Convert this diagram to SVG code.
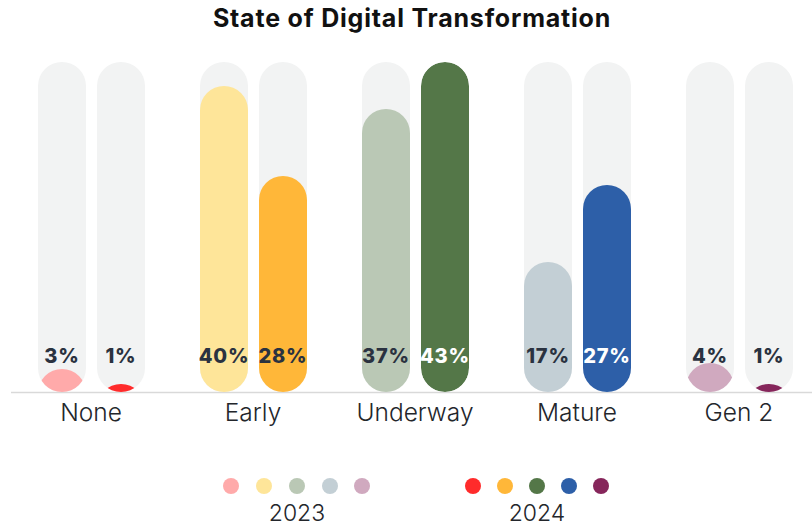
<svg xmlns="http://www.w3.org/2000/svg" width="812" height="526" viewBox="0 0 812 526">
<style>
.bg{fill:#f2f3f3}
.pct{font-family:Inter,"Liberation Sans",sans-serif;font-weight:800;font-size:20px;letter-spacing:0.8px;fill:#2a3240;text-anchor:middle}
.pct.w{fill:#ffffff}
.cat{font-family:Inter,"Liberation Sans",sans-serif;font-weight:300;font-size:24.5px;fill:#23262b;text-anchor:middle}
.yr{font-family:Inter,"Liberation Sans",sans-serif;font-weight:300;font-size:23px;fill:#23262b;text-anchor:middle}
.title{font-family:Inter,"Liberation Sans",sans-serif;font-weight:700;font-size:25px;letter-spacing:0.8px;fill:#111111;text-anchor:middle}
</style>
<defs>
<clipPath id="c0"><rect x="38" y="62" width="48" height="330" rx="24"/></clipPath>
<clipPath id="c1"><rect x="97" y="62" width="48" height="330" rx="24"/></clipPath>
<clipPath id="c2"><rect x="200" y="62" width="48" height="330" rx="24"/></clipPath>
<clipPath id="c3"><rect x="259" y="62" width="48" height="330" rx="24"/></clipPath>
<clipPath id="c4"><rect x="362" y="62" width="48" height="330" rx="24"/></clipPath>
<clipPath id="c5"><rect x="421" y="62" width="48" height="330" rx="24"/></clipPath>
<clipPath id="c6"><rect x="524" y="62" width="48" height="330" rx="24"/></clipPath>
<clipPath id="c7"><rect x="583" y="62" width="48" height="330" rx="24"/></clipPath>
<clipPath id="c8"><rect x="686" y="62" width="48" height="330" rx="24"/></clipPath>
<clipPath id="c9"><rect x="745" y="62" width="48" height="330" rx="24"/></clipPath>
</defs>
<rect width="812" height="526" fill="#ffffff"/>
<text id="title" class="title" x="412" y="27">State of Digital Transformation</text>

<g id="connectors">
<line x1="11" y1="392.5" x2="812" y2="392.5" stroke="#d9d9d9" stroke-width="1.5"/>
</g>

<g id="none">
<rect class="bg" x="38" y="62" width="48" height="330" rx="24"/>
<rect clip-path="url(#c0)" x="38" y="369" width="48" height="80" rx="24" fill="#ffaaaa"/>
<text class="pct" x="62" y="363">3%</text>
<rect class="bg" x="97" y="62" width="48" height="330" rx="24"/>
<rect clip-path="url(#c1)" x="97" y="384" width="48" height="80" rx="24" fill="#ff2b2b"/>
<text class="pct" x="121" y="363">1%</text>
<text class="cat" x="91" y="421">None</text>
</g>

<g id="early">
<rect class="bg" x="200" y="62" width="48" height="330" rx="24"/>
<rect clip-path="url(#c2)" x="200" y="86" width="48" height="330" rx="24" fill="#fee599"/>
<text class="pct" x="224" y="363">40%</text>
<rect class="bg" x="259" y="62" width="48" height="330" rx="24"/>
<rect clip-path="url(#c3)" x="259" y="176" width="48" height="330" rx="24" fill="#ffb739"/>
<text class="pct" x="283" y="363">28%</text>
<text class="cat" x="253" y="421">Early</text>
</g>

<g id="underway">
<rect class="bg" x="362" y="62" width="48" height="330" rx="24"/>
<rect clip-path="url(#c4)" x="362" y="109" width="48" height="330" rx="24" fill="#bac8b5"/>
<text class="pct" x="386" y="363">37%</text>
<rect class="bg" x="421" y="62" width="48" height="330" rx="24"/>
<rect clip-path="url(#c5)" x="421" y="62" width="48" height="330" rx="24" fill="#547748"/>
<text class="pct w" x="445" y="363">43%</text>
<text class="cat" x="415" y="421">Underway</text>
</g>

<g id="mature">
<rect class="bg" x="524" y="62" width="48" height="330" rx="24"/>
<rect clip-path="url(#c6)" x="524" y="262" width="48" height="330" rx="24" fill="#c3cfd5"/>
<text class="pct" x="548" y="363">17%</text>
<rect class="bg" x="583" y="62" width="48" height="330" rx="24"/>
<rect clip-path="url(#c7)" x="583" y="185" width="48" height="330" rx="24" fill="#2d5fa8"/>
<text class="pct w" x="607" y="363">27%</text>
<text class="cat" x="577" y="421">Mature</text>
</g>

<g id="gen2">
<rect class="bg" x="686" y="62" width="48" height="330" rx="24"/>
<rect clip-path="url(#c8)" x="686" y="363" width="48" height="80" rx="24" fill="#d0a9bf"/>
<text class="pct" x="710" y="363">4%</text>
<rect class="bg" x="745" y="62" width="48" height="330" rx="24"/>
<rect clip-path="url(#c9)" x="745" y="384" width="48" height="80" rx="24" fill="#86265b"/>
<text class="pct" x="769" y="363">1%</text>
<text class="cat" x="739" y="421">Gen 2</text>
</g>

<g id="legend">
<circle cx="231" cy="486" r="8" fill="#ffaaaa"/>
<circle cx="264" cy="486" r="8" fill="#fee599"/>
<circle cx="297" cy="486" r="8" fill="#bac8b5"/>
<circle cx="330" cy="486" r="8" fill="#c3cfd5"/>
<circle cx="362" cy="486" r="8" fill="#d0a9bf"/>
<text class="yr" x="297" y="521">2023</text>
<circle cx="473" cy="486" r="8" fill="#ff2b2b"/>
<circle cx="505" cy="486" r="8" fill="#ffb739"/>
<circle cx="537" cy="486" r="8" fill="#547748"/>
<circle cx="569" cy="486" r="8" fill="#2d5fa8"/>
<circle cx="601" cy="486" r="8" fill="#86265b"/>
<text class="yr" x="537" y="521">2024</text>
</g>
</svg>
